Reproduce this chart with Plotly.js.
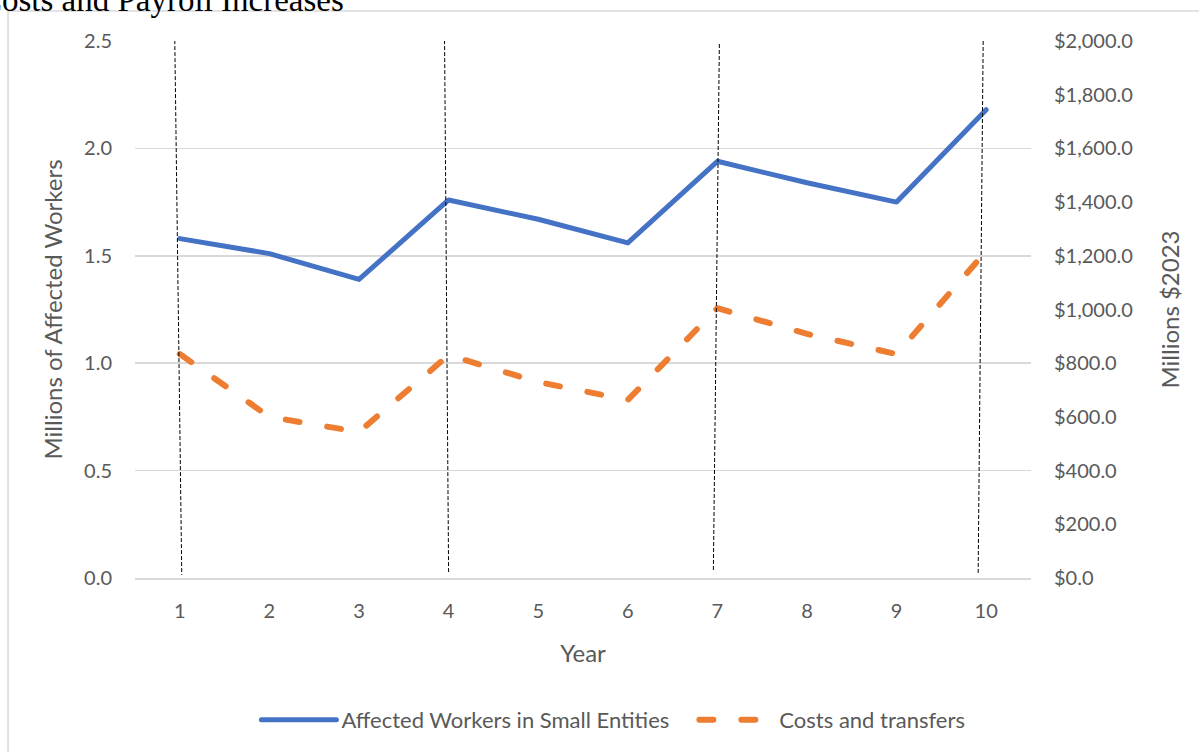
<!DOCTYPE html>
<html>
<head>
<meta charset="utf-8">
<script src="https://cdn.plot.ly/plotly-3.0.1.min.js"></script>
<style>
html,body{margin:0;padding:0;background:#fff;}
#chart{width:1199px;height:752px;}
path.js-line{stroke-linecap:round !important;stroke-linejoin:round !important;}
</style>
</head>
<body>
<div id="chart"></div>
<script>
// ---- data ----
var years = ['1','2','3','4','5','6','7','8','9','10'];
var workers = [1.58, 1.51, 1.39, 1.76, 1.67, 1.56, 1.94, 1.84, 1.75, 2.18];
var costs = [834, 600, 544, 830, 730, 663, 1005, 909, 834, 1218];
var workersName = 'Affected Workers in Small Entities';
var costsName = 'Costs and transfers';
var titleText = 'Costs and Payroll Increases';
var leftTitle = 'Millions of Affected Workers';
var rightTitle = 'Millions $2023';
var xTitle = 'Year';
// years marked with vertical dashed lines, with top/bottom offsets (category units) and y-extent
var markedYears = ['1','4','7','10'];
var markTopOff = [-0.056, -0.045, 0.022, -0.033];
var markBotOff = [0.022, 0.0, -0.045, -0.09];
var markTopY = [2.504, 2.504, 2.486, 2.528];
var markBotY = [0.014, 0.028, 0.037, 0.019];

var tickFont = {family:'Lato, "Open Sans", sans-serif', size:20, color:'#595959'};
var titleFont = {family:'Lato, "Open Sans", sans-serif', size:24, color:'#595959'};
var legendFont = {family:'Lato, "Open Sans", sans-serif', size:22, color:'#595959'};

var traces = [
  {x:years, y:workers, name:workersName, type:'scatter', mode:'lines',
   line:{color:'#4472C4', width:5}, yaxis:'y', legend:'legend'},
  {x:years, y:costs, name:costsName, type:'scatter', mode:'lines',
   line:{color:'#ED7D31', width:6, dash:'14px,28px'}, yaxis:'y2', legend:'legend2'}
];

var shapes = [];
markedYears.forEach(function(yr, i){
  var idx = years.indexOf(yr);
  shapes.push({type:'line', xref:'x', yref:'y',
    x0: idx + markTopOff[i], x1: idx + markBotOff[i],
    y0: markTopY[i], y1: markBotY[i],
    line:{color:'#000', width:1, dash:'4px,2px'}});
});
// outer chart frame (partially visible)
shapes.push({type:'rect', xref:'paper', yref:'paper',
  x0:-0.1417, x1:1.4, y0:-0.4, y1:1.0559,
  line:{color:'#d9d9d9', width:1.5}, fillcolor:'rgba(0,0,0,0)', layer:'below'});

var layout = {
  width:1199, height:752,
  margin:{l:135, r:168, t:41, b:174},
  paper_bgcolor:'#fff', plot_bgcolor:'#fff',
  showlegend:true,
  legend:{orientation:'h', xref:'paper', x:0.1355, xanchor:'left',
    yref:'container', y:0.0705, yanchor:'top',
    font:legendFont, itemwidth:75},
  legend2:{orientation:'h', xref:'paper', x:0.6243, xanchor:'left',
    yref:'container', y:0.0705, yanchor:'top',
    font:legendFont, itemwidth:75},
  xaxis:{type:'category', range:[-0.5, 9.5], showgrid:false, zeroline:false,
    automargin:false,
    showline:true, linecolor:'#d9d9d9', linewidth:1.5, ticks:'',
    tickfont:tickFont, ticklabelstandoff:14,
    title:{text:xTitle, font:titleFont, standoff:24}},
  yaxis:{range:[0, 2.5], dtick:0.5, tickformat:'.1f', showgrid:true,
    automargin:false,
    gridcolor:'#d9d9d9', gridwidth:1.5, zeroline:false, showline:false,
    tickfont:tickFont, ticklabelstandoff:22, ticks:'',
    title:{text:leftTitle, font:titleFont, standoff:14}},
  yaxis2:{range:[0, 2000], dtick:200, tickformat:'$,.1f', overlaying:'y',
    automargin:false,
    side:'right', showgrid:false, zeroline:false, showline:false, ticks:'',
    tickfont:tickFont, ticklabelstandoff:22,
    title:{text:rightTitle, font:titleFont, standoff:30}},
  shapes:shapes,
  annotations:[{text:titleText, xref:'paper', yref:'paper',
    x:-0.175, y:1.039, xanchor:'left', yanchor:'bottom', showarrow:false,
    font:{family:'"Liberation Serif", "Times New Roman", serif', size:33, color:'#000'}}]
};

Plotly.newPlot('chart', traces, layout, {displayModeBar:false, staticPlot:true});
</script>
</body>
</html>
